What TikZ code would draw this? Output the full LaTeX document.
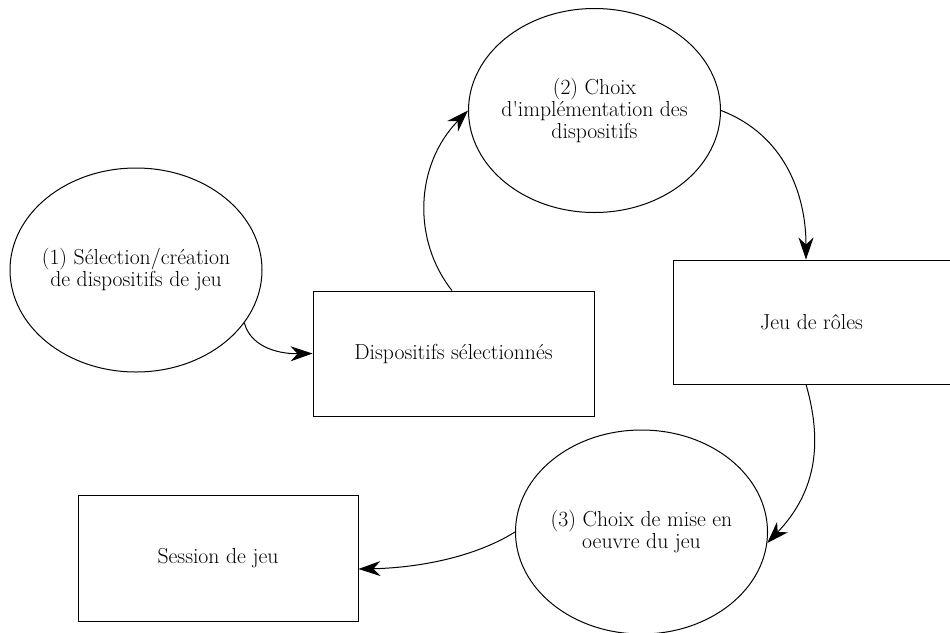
\documentclass[tikz,border=0pt]{standalone}
\usetikzlibrary{shapes.geometric,arrows.meta}
\newcommand{\straightquote}{\XeTeXglyph\XeTeXcharglyph"0027\relax}
\begin{document}
\begin{tikzpicture}[x=1pt,y=-1pt,
  every node/.style={font=\rmfamily\fontsize{21.7}{22}\selectfont, align=center, inner sep=0pt},
  phase/.style={draw, ellipse, line width=1pt, inner sep=-40pt,
    minimum width=252pt, minimum height=204pt},
  product/.style={draw, rectangle, line width=0.9pt},
  flow/.style={line width=1pt, -{Stealth[length=22pt,width=15pt,inset=7pt]}}]
\useasboundingbox (0,0) rectangle (950,632);
% processes
\node[phase] (sel) at (136,270)
  {(1) Sélection/création\\de dispositifs de jeu};
\node[phase] (impl) at (594.5,110.5)
  {(2) Choix\\d\straightquote implémentation des\\dispositifs};
\node[phase] (mise) at (641.5,532)
  {(3) Choix de mise en\\oeuvre du jeu};
% products
\node[product, minimum width=281pt, minimum height=125pt] (disp) at (453.5,353.5)
  {Dispositifs sélectionnés};
\node[product, minimum width=277pt, minimum height=124pt] (roles) at (811.5,322)
  {Jeu de rôles};
\node[product, minimum width=280pt, minimum height=126pt] (session) at (218,558)
  {Session de jeu};
% connectors
\draw[flow] (sel.-26) .. controls (250,345) and (275,354) .. (disp.west);
\draw[flow] ([xshift=-1.5pt]disp.north) .. controls (412,240) and (415,165) .. (impl.west);
\draw[flow] (impl.east) .. controls (785,135) and (806,195) .. ([xshift=-5.5pt]roles.north);
\draw[flow] ([xshift=-5.5pt]roles.south) .. controls (822,440) and (818,490) .. (mise.-5);
\draw[flow] (mise.west) .. controls (470,560) and (410,568) .. ([yshift=-11pt]session.east);
\end{tikzpicture}
\end{document}
